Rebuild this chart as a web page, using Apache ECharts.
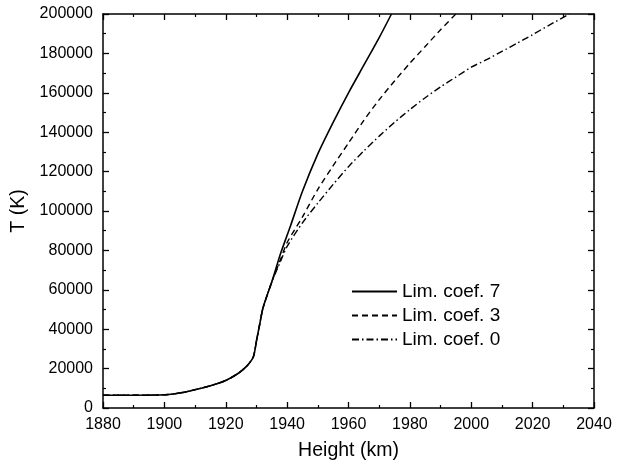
<!DOCTYPE html>
<html>
<head>
<meta charset="utf-8">
<script src="https://cdn.jsdelivr.net/npm/echarts@6/dist/echarts.min.js"></script>
<style>html,body{margin:0;padding:0;background:#fff;}#c{width:619px;height:466px;}</style>
</head>
<body>
<div id="c"></div>
<script>
// Shared lower part (all three runs coincide)
var commonH = [1880, 1890, 1900, 1905, 1910, 1915, 1920, 1924, 1927, 1929, 1930, 1931, 1932, 1933, 1935];
var commonT = [6500, 6500, 6700, 7600, 9300, 11300, 14000, 17500, 21500, 26000, 34000, 42000, 50000, 55000, 64000];

var coef7H = [1938, 1941, 1945, 1950, 1955, 1960, 1965, 1970, 1974];
var coef7T = [79000, 92000, 110000, 129000, 145000, 160000, 174000, 188000, 200000];

var coef3H = [1938, 1940, 1945, 1950, 1955, 1960, 1965, 1970, 1975, 1980, 1985, 1990, 1995];
var coef3T = [76000, 84000, 97000, 111000, 123000, 134500, 146000, 156500, 166000, 175000, 183500, 192000, 200000];

var coef0H = [1938, 1940, 1945, 1950, 1955, 1960, 1965, 1970, 1975, 1980, 1985, 1990, 1995, 2000, 2005, 2010, 2015, 2020, 2025, 2032];
var coef0T = [75000, 82000, 94000, 104000, 113500, 122500, 130500, 138000, 145000, 151500, 157500, 163000, 168000, 173000, 176800, 181000, 185200, 189500, 194000, 200000];

var seriesNames = ['Lim. coef. 7', 'Lim. coef. 3', 'Lim. coef. 0'];

function pairs(h1, t1, h2, t2) {
  var out = [];
  for (var i = 0; i < h1.length; i++) out.push([h1[i], t1[i]]);
  for (var j = 0; j < h2.length; j++) out.push([h2[j], t2[j]]);
  return out;
}

var FONT = 'Liberation Sans, Arial, sans-serif';
var axisLineStyle = { color: '#000', width: 1.5 };
function plain(v) { return String(v); }

function xAx(pos, labels) {
  return {
    type: 'value', position: pos, min: 1880, max: 2040, interval: 20,
    name: labels ? 'Height (km)' : '', nameLocation: 'middle', nameGap: 33,
    nameTextStyle: { fontFamily: FONT, fontSize: 19.5, color: '#000' },
    axisLine: { show: true, onZero: false, lineStyle: axisLineStyle },
    axisTick: { show: true, inside: true, length: 6, lineStyle: { color: '#000', width: 1.3 } },
    minorTick: { show: true, splitNumber: 2, length: 3, lineStyle: { color: '#000', width: 1.2 } },
    axisLabel: { show: labels, margin: 9, fontFamily: FONT, fontSize: 16, color: '#000', formatter: plain },
    splitLine: { show: false }
  };
}
function yAx(pos, labels) {
  return {
    type: 'value', position: pos, min: 0, max: 200000, interval: 20000,
    name: labels ? 'T (K)' : '', nameLocation: 'middle', nameGap: 72,
    nameTextStyle: { fontFamily: FONT, fontSize: 19.5, color: '#000' },
    axisLine: { show: true, onZero: false, lineStyle: axisLineStyle },
    axisTick: { show: true, inside: true, length: 6, lineStyle: { color: '#000', width: 1.3 } },
    minorTick: { show: true, splitNumber: 2, length: 3, lineStyle: { color: '#000', width: 1.2 } },
    axisLabel: { show: labels, margin: 10, fontFamily: FONT, fontSize: 16, color: '#000', formatter: plain },
    splitLine: { show: false }
  };
}

var styles = [
  { color: '#000', width: 1.6, type: 'solid' },
  { color: '#000', width: 1.4, type: [6, 4] },
  { color: '#000', width: 1.4, type: [7, 3, 1.5, 3] }
];
var datas = [
  pairs(commonH, commonT, coef7H, coef7T),
  pairs(commonH, commonT, coef3H, coef3T),
  pairs(commonH, commonT, coef0H, coef0T)
];

var chart = echarts.init(document.getElementById('c'), null, { renderer: 'canvas' });
chart.setOption({
  animation: false,
  backgroundColor: '#fff',
  grid: { left: 103, right: 25, top: 14, bottom: 56, containLabel: false },
  xAxis: [xAx('bottom', true), xAx('top', false)],
  yAxis: [yAx('left', true), yAx('right', false)],
  legend: {
    show: true, padding: 0,
    left: 351, top: 282, orient: 'vertical', itemWidth: 45, itemHeight: 14, itemGap: 5,
    itemStyle: { color: 'rgba(0,0,0,0)', borderWidth: 0, opacity: 0 },
    textStyle: { fontFamily: FONT, fontSize: 19, color: '#000' },
    data: seriesNames
  },
  series: seriesNames.map(function (n, i) {
    return {
      name: n, type: 'line', data: datas[i], showSymbol: false, symbol: 'none',
      smooth: 0.25, lineStyle: styles[i], itemStyle: { color: '#000' },
      xAxisIndex: 0, yAxisIndex: 0, clip: true
    };
  })
});
</script>
</body>
</html>
